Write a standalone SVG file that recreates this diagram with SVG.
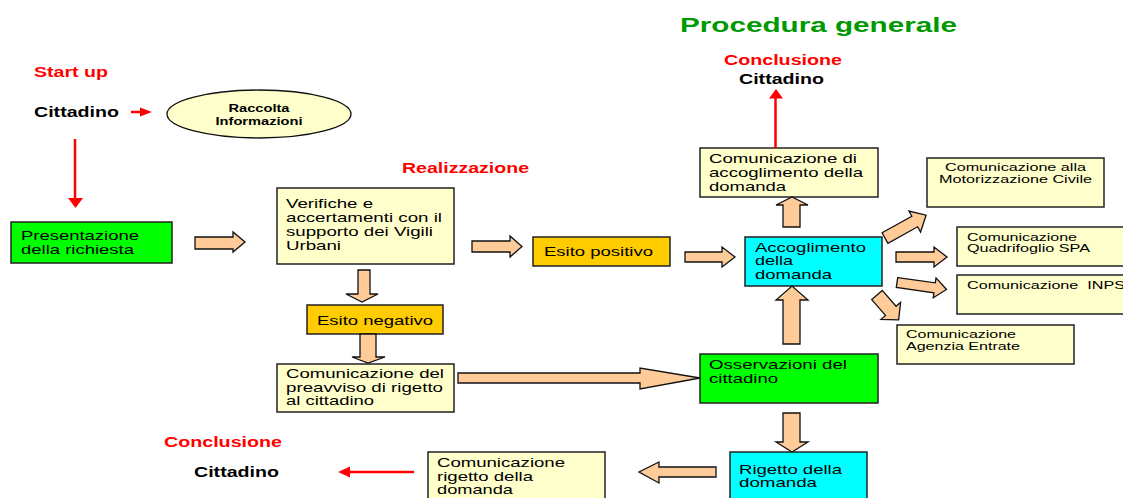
<svg xmlns="http://www.w3.org/2000/svg" width="1123" height="498" viewBox="0 0 1123 498">
<style>
.box{stroke:#222;stroke-width:1.5}
.y{fill:#FFFFCC}.g{fill:#00FF00}.o{fill:#FFCC00}.c{fill:#00FFFF}
.t{font-family:"Liberation Sans",Arial,sans-serif;font-size:13px;fill:#000}
.s{font-family:"Liberation Sans",Arial,sans-serif;font-size:11.5px;fill:#000}
.b{font-family:"Liberation Sans",Arial,sans-serif;font-size:14px;font-weight:bold;fill:#000}
.r{font-family:"Liberation Sans",Arial,sans-serif;font-size:14px;font-weight:bold;fill:#FF0000}
.ba{fill:#FFCC99;stroke:#111;stroke-width:1.3;stroke-linejoin:miter}
.rl{stroke:#FF0000;stroke-width:2.5;fill:none}
.rh{fill:#FF0000}
</style>
<rect width="1123" height="498" fill="#fff"/>
<text x="680" y="32" font-family="Liberation Sans,Arial,sans-serif" font-size="21" font-weight="bold" fill="#009900" textLength="277" lengthAdjust="spacingAndGlyphs">Procedura generale</text>

<g id="labels">
<text class="r" x="34" y="77" textLength="74" lengthAdjust="spacingAndGlyphs">Start up</text>
<text class="b" x="34" y="117" textLength="85" lengthAdjust="spacingAndGlyphs">Cittadino</text>
<text class="r" x="402" y="173" textLength="127" lengthAdjust="spacingAndGlyphs">Realizzazione</text>
<text class="r" x="724" y="65" textLength="118" lengthAdjust="spacingAndGlyphs">Conclusione</text>
<text class="b" x="739" y="84" textLength="85" lengthAdjust="spacingAndGlyphs">Cittadino</text>
<text class="r" x="164" y="447" textLength="118" lengthAdjust="spacingAndGlyphs">Conclusione</text>
<text class="b" x="194" y="477" textLength="85" lengthAdjust="spacingAndGlyphs">Cittadino</text>
</g>

<g id="raccolta">
<ellipse cx="259" cy="114" rx="92" ry="24" fill="#FFFFCC" stroke="#111" stroke-width="1.3"/>
<text x="259" y="112" text-anchor="middle" font-family="Liberation Sans,Arial,sans-serif" font-size="10.5" font-weight="bold" textLength="61" lengthAdjust="spacingAndGlyphs">Raccolta</text>
<text x="259" y="125" text-anchor="middle" font-family="Liberation Sans,Arial,sans-serif" font-size="10.5" font-weight="bold" textLength="87" lengthAdjust="spacingAndGlyphs">Informazioni</text>
</g>

<g id="presentazione">
<rect class="box g" x="11" y="222" width="161" height="41"/>
<text class="t" x="21" y="240" textLength="118" lengthAdjust="spacingAndGlyphs">Presentazione</text>
<text class="t" x="21" y="254" textLength="113" lengthAdjust="spacingAndGlyphs">della richiesta</text>
</g>

<g id="verifiche">
<rect class="box y" x="277" y="188" width="177" height="76"/>
<text class="t" x="286" y="208" textLength="87" lengthAdjust="spacingAndGlyphs">Verifiche e</text>
<text class="t" x="286" y="222" textLength="156" lengthAdjust="spacingAndGlyphs">accertamenti con il</text>
<text class="t" x="286" y="236" textLength="147" lengthAdjust="spacingAndGlyphs">supporto dei Vigili</text>
<text class="t" x="286" y="250" textLength="55" lengthAdjust="spacingAndGlyphs">Urbani</text>
</g>

<g id="esito-positivo">
<rect class="box o" x="533" y="237" width="137" height="29"/>
<text class="t" x="544" y="256" textLength="109" lengthAdjust="spacingAndGlyphs">Esito positivo</text>
</g>

<g id="esito-negativo">
<rect class="box o" x="307" y="305" width="136" height="29"/>
<text class="t" x="317" y="325" textLength="116" lengthAdjust="spacingAndGlyphs">Esito negativo</text>
</g>

<g id="preavviso">
<rect class="box y" x="277" y="364" width="177" height="48"/>
<text class="t" x="286" y="378" textLength="158" lengthAdjust="spacingAndGlyphs">Comunicazione del</text>
<text class="t" x="286" y="392" textLength="157" lengthAdjust="spacingAndGlyphs">preavviso di rigetto</text>
<text class="t" x="286" y="405" textLength="88" lengthAdjust="spacingAndGlyphs">al cittadino</text>
</g>

<g id="osservazioni">
<rect class="box g" x="700" y="354" width="178" height="49"/>
<text class="t" x="709" y="369" textLength="138" lengthAdjust="spacingAndGlyphs">Osservazioni del</text>
<text class="t" x="709" y="383" textLength="69" lengthAdjust="spacingAndGlyphs">cittadino</text>
</g>

<g id="accoglimento">
<rect class="box c" x="745" y="237" width="137" height="49"/>
<text class="t" x="755" y="252" textLength="111" lengthAdjust="spacingAndGlyphs">Accoglimento</text>
<text class="t" x="755" y="265" textLength="38" lengthAdjust="spacingAndGlyphs">della</text>
<text class="t" x="755" y="279" textLength="77" lengthAdjust="spacingAndGlyphs">domanda</text>
</g>

<g id="com-accoglimento">
<rect class="box y" x="700" y="148" width="178" height="49"/>
<text class="t" x="709" y="163" textLength="148" lengthAdjust="spacingAndGlyphs">Comunicazione di</text>
<text class="t" x="709" y="177" textLength="154" lengthAdjust="spacingAndGlyphs">accoglimento della</text>
<text class="t" x="709" y="191" textLength="77" lengthAdjust="spacingAndGlyphs">domanda</text>
</g>

<g id="motorizzazione">
<rect class="box y" x="927" y="158" width="177" height="49"/>
<text class="s" x="1015.5" y="171" text-anchor="middle" textLength="141" lengthAdjust="spacingAndGlyphs">Comunicazione alla</text>
<text class="s" x="1015.5" y="183" text-anchor="middle" textLength="153" lengthAdjust="spacingAndGlyphs">Motorizzazione Civile</text>
</g>

<g id="quadrifoglio">
<rect class="box y" x="957" y="227" width="180" height="39"/>
<text class="s" x="967" y="241" textLength="110" lengthAdjust="spacingAndGlyphs">Comunicazione</text>
<text class="s" x="967" y="252" textLength="123" lengthAdjust="spacingAndGlyphs">Quadrifoglio SPA</text>
</g>

<g id="inps">
<rect class="box y" x="957" y="275" width="180" height="39"/>
<text class="s" x="967" y="289" textLength="158" lengthAdjust="spacingAndGlyphs" xml:space="preserve">Comunicazione  INPS</text>
</g>

<g id="agenzia">
<rect class="box y" x="897" y="325" width="177" height="39"/>
<text class="s" x="906" y="338" textLength="110" lengthAdjust="spacingAndGlyphs">Comunicazione</text>
<text class="s" x="906" y="350" textLength="114" lengthAdjust="spacingAndGlyphs">Agenzia Entrate</text>
</g>

<g id="rigetto">
<rect class="box c" x="730" y="452" width="137" height="60"/>
<text class="t" x="739" y="474" textLength="103" lengthAdjust="spacingAndGlyphs">Rigetto della</text>
<text class="t" x="739" y="487" textLength="78" lengthAdjust="spacingAndGlyphs">domanda</text>
</g>

<g id="com-rigetto">
<rect class="box y" x="428" y="452" width="177" height="60"/>
<text class="t" x="437" y="467" textLength="128" lengthAdjust="spacingAndGlyphs">Comunicazione</text>
<text class="t" x="437" y="481" textLength="96" lengthAdjust="spacingAndGlyphs">rigetto della</text>
<text class="t" x="437" y="494" textLength="76" lengthAdjust="spacingAndGlyphs">domanda</text>
</g>

<g id="connectors">
<line class="rl" x1="131" y1="112" x2="142" y2="112"/>
<polygon class="rh" points="140,107.5 152,112 140,116.5"/>
<line class="rl" x1="75" y1="139" x2="75" y2="199"/>
<polygon class="rh" points="68,198 83,198 75.5,208"/>
<line class="rl" x1="775.5" y1="148" x2="775.5" y2="97"/>
<polygon class="rh" points="769,98.5 783,98.5 776,89"/>
<line class="rl" x1="414" y1="472" x2="348" y2="472"/>
<polygon class="rh" points="350,466.5 350,477.5 338,472"/>

<polygon class="ba" points="195,237 233,237 233,232 245,242 233,252 233,249 195,249"/>
<polygon class="ba" points="472,241 510,241 510,236 522,246.5 510,257 510,252 472,252"/>
<polygon class="ba" points="685,252 722,252 722,247 735,257 722,267 722,262 685,262"/>
<polygon class="ba" points="358,270 370,270 370,294 378,294 362,302 346,294 358,294"/>
<polygon class="ba" points="360,334 376,334 376,357 385,357 368,363 352,357 360,357"/>
<polygon class="ba" points="458,373 640,373 640,368 700,378 640,389 640,383 458,383"/>
<polygon class="ba" points="783,227 783,205 776,205 792,197 808,205 800,205 800,227"/>
<polygon class="ba" points="783,344 783,300 776,300 792,286 808,300 800,300 800,344"/>
<polygon class="ba" points="783,413 800,413 800,442 808,442 792,452 776,442 783,442"/>
<polygon class="ba" points="716,467 659,467 659,462 639,472 659,483 659,477 716,477"/>
<polygon class="ba" points="896,252 934,252 934,247 947,257 934,267 934,262 896,262"/>
<polygon class="ba" transform="translate(885,238) rotate(-29)" points="0,-6 34,-6 34,-12 47,0 34,12 34,6 0,6"/>
<polygon class="ba" transform="translate(897,282.5) rotate(8)" points="0,-5 38,-5 38,-10 50,0 38,10 38,5 0,5"/>
<polygon class="ba" transform="translate(877,295) rotate(49)" points="0,-7 21,-7 21,-13 33,0 21,13 21,7 0,7"/>
</g>
</svg>
